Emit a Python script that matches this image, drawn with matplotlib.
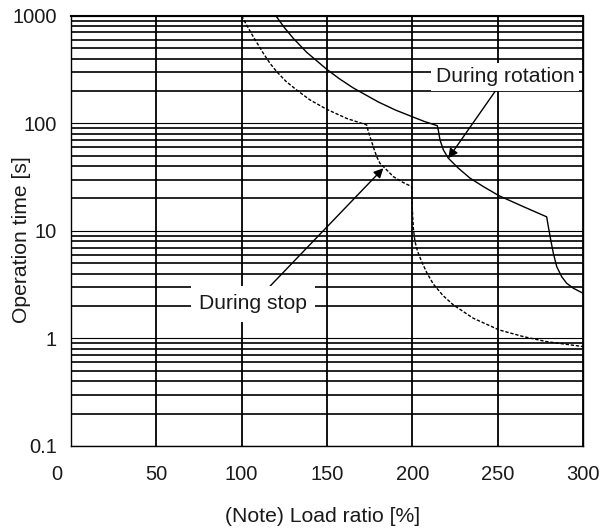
import matplotlib
matplotlib.use('Agg')
import matplotlib.pyplot as plt
import matplotlib.transforms as mtransforms
from matplotlib.ticker import LogLocator, FixedLocator, NullFormatter

plt.rcParams['font.family'] = ['Liberation Sans', 'DejaVu Sans']

# operating time curves
rotation_load = [120, 125, 130.3, 138.1, 149.8, 157, 165.4, 180, 190, 200.6, 207, 214.6,
                 215.2, 216.2, 218.2, 221.1, 227, 233.8, 241.6, 250.8, 265, 278.7,
                 279.7, 281.1, 282.6, 284.6, 287.5, 290.4, 294.3, 300]
rotation_time = [1000, 776, 615, 457, 318, 261, 213, 158, 133, 114, 104, 95,
                 86.6, 70, 56.5, 47.3, 38.2, 30.9, 25.8, 21.2, 16.8, 13.5,
                 10.9, 8.2, 6.2, 4.65, 3.75, 3.26, 2.93, 2.63]

stop_load = [100, 103, 106.8, 112.7, 116.6, 120.5, 126, 132.2, 140, 149.8, 161.5, 173.3,
             174.2, 175.2, 177.1, 179.1, 181, 184, 188.9, 194.7, 199.6, 199.8, 200,
             200.6, 201.5, 203, 205.4, 208.4, 212.3, 218, 224, 235.7, 250.8, 265,
             278.7, 300]
stop_time = [1000, 813, 638, 447, 361, 302, 245, 204, 165, 135, 111, 96.4,
             83.6, 75, 60.6, 49, 42.5, 38.2, 31.9, 28.1, 25.8, 19.4, 15.6,
             10.5, 8.0, 6.5, 5.2, 4.1, 3.2, 2.5, 2.05, 1.54, 1.2, 1.04,
             0.933, 0.84]

x_ticks = [0, 50, 100, 150, 200, 250, 300]
y_ticks = [0.1, 1, 10, 100, 1000]
y_tick_labels = ['0.1', '1', '10', '100', '1000']

FS = 14.5   # tick labels
FS_T = 15.2  # axis titles and callouts
INK = '#1a1a1a'

fig = plt.figure(figsize=(6.11, 5.31), dpi=100)
ax = fig.add_axes([0.1162, 0.1601, 0.838, 0.8103])

ax.plot(rotation_load, rotation_time, color='black', lw=1.0, zorder=2)
ax.plot(stop_load, stop_time, color='black', lw=1.0, ls=(0, (2.4, 1.3)), zorder=2)

ax.set_yscale('log')
ax.set_xlim(0, 300)
ax.set_ylim(0.1, 1000)
ax.xaxis.set_major_locator(FixedLocator(x_ticks))
ax.set_yticks(y_ticks)
ax.set_yticklabels(y_tick_labels)
ax.yaxis.set_minor_locator(LogLocator(base=10, subs=range(2, 10)))
ax.yaxis.set_minor_formatter(NullFormatter())

ax.set_axisbelow(True)
ax.grid(axis='x', which='major', color='black', lw=1.3)
ax.grid(axis='y', which='major', color='black', lw=0.8)
ax.grid(axis='y', which='minor', color='black', lw=1.2)

ax.tick_params(which='both', length=0)
ax.tick_params(axis='y', labelsize=FS, pad=10, labelcolor=INK)
ax.tick_params(axis='x', labelsize=FS, pad=14, labelcolor=INK)
for sp in ax.spines.values():
    sp.set_linewidth(1.0)
    sp.set_zorder(6)
ax.spines['top'].set_linewidth(1.5)

# the "0" sits left of the corner in the original
fig.canvas.draw()
lbl0 = ax.get_xticklabels()[0]
lbl0.set_transform(lbl0.get_transform() +
                   mtransforms.ScaledTranslation(-0.14, 0, fig.dpi_scale_trans))

ax.set_xlabel('(Note) Load ratio [%]', fontsize=FS_T, color=INK, va='center')
ax.xaxis.set_label_coords(0.491, -0.164)
ax.set_ylabel('Operation time [s]', fontsize=FS_T, color=INK, va='center')
ax.yaxis.set_label_coords(-0.0957, 0.48)

arrow = dict(arrowstyle='-|>', color='black', lw=1.0, mutation_scale=14,
             shrinkA=0, shrinkB=0)
ax.annotate('During rotation', xy=(221.1, 47.3), xytext=(254.5, 271),
            ha='center', va='center', fontsize=FS_T, color=INK,
            bbox=dict(boxstyle='square,pad=0.22', fc='white', ec='none'),
            arrowprops=arrow, zorder=5)
ax.annotate('During stop', xy=(183, 38.2), xytext=(106.6, 2.09),
            ha='center', va='center', fontsize=FS_T, color=INK,
            bbox=dict(boxstyle='square,pad=0.38', fc='white', ec='none'),
            arrowprops=arrow, zorder=5)

fig.savefig('out.png', dpi=100)
